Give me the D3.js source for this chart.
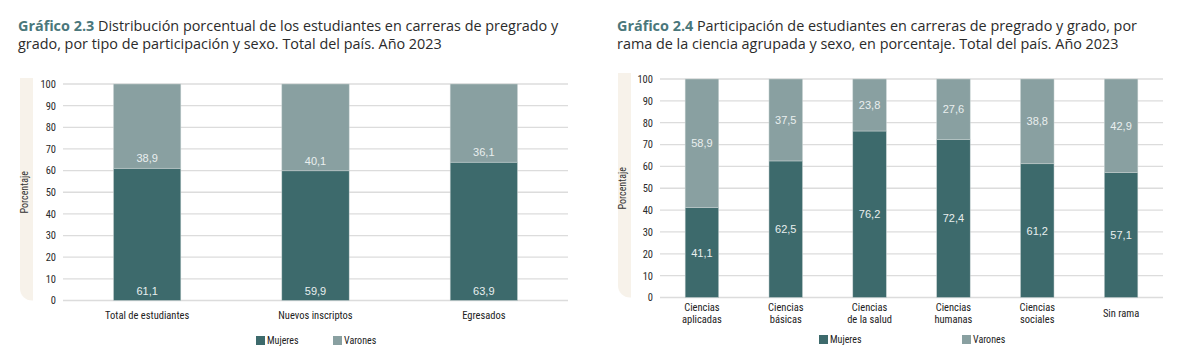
<!DOCTYPE html>
<html>
<head>
<meta charset="utf-8">
<script src="https://cdn.jsdelivr.net/npm/d3@7"></script>
<style>
  body { margin: 0; background: #fff; }
  svg { display: block; }
  .title { font-family: "Open Sans", "Noto Sans", sans-serif; font-size: 14.4px; fill: #2b2b2b; }
  .title .num { font-weight: 700; fill: #4a777b; }
  .tick text, .cat, .leg, .ylab { font-family: "Liberation Sans Narrow", "Roboto Condensed", "Liberation Sans", Arial, sans-serif; }
  .val { font-family: "Liberation Sans Narrow", "Liberation Sans", Arial, sans-serif; font-size: 11px; fill: #e9efef; text-anchor: middle; }
</style>
</head>
<body>
<div id="chart"></div>
<script>
////////////////////////////////////////////////////////////
//////////////////////// Data //////////////////////////////
////////////////////////////////////////////////////////////

var series = ["Mujeres", "Varones"],
    colors = ["#3d6a6c", "#89a0a1"];

// Gráfico 2.3
var cats1 = ["Total de estudiantes", "Nuevos inscriptos", "Egresados"],
    mujeres1 = [61.1, 59.9, 63.9],
    varones1 = [38.9, 40.1, 36.1];

// Gráfico 2.4
var cats2 = [["Ciencias", "aplicadas"], ["Ciencias", "básicas"], ["Ciencias", "de la salud"],
             ["Ciencias", "humanas"], ["Ciencias", "sociales"], ["Sin rama"]],
    mujeres2 = [41.1, 62.5, 76.2, 72.4, 61.2, 57.1],
    varones2 = [58.9, 37.5, 23.8, 27.6, 38.8, 42.9];

var yTicks = [0, 10, 20, 30, 40, 50, 60, 70, 80, 90, 100];

////////////////////////////////////////////////////////////
////////////////////// Create SVG //////////////////////////
////////////////////////////////////////////////////////////

var svg = d3.select("#chart").append("svg")
  .attr("width", 1200)
  .attr("height", 354);

function fmt(v) { return d3.format(".1f")(v).replace(".", ","); }

function drawChart(o) {
  var g = svg.append("g");

  // title (two lines)
  var t = g.append("text").attr("class", "title");
  var l1 = t.append("tspan").attr("x", o.tx).attr("y", 31);
  l1.append("tspan").attr("class", "num").text(o.num + " ");
  l1.append("tspan").text(o.title[0]);
  t.append("tspan").attr("x", o.tx).attr("y", 49).text(o.title[1]);

  var x = d3.scaleBand()
    .domain(d3.range(o.cats.length))
    .range([o.x0, o.x1])
    .paddingInner(o.pad)
    .paddingOuter(o.pad / 2);

  var y = d3.scaleLinear()
    .domain([0, 100])
    .range([o.y0, o.y1]);

  // beige panel behind y label
  g.append("path")
    .attr("fill", "#f7f2ea")
    .attr("d", function() {
      var px = o.px, pw = 13, top = y(100) - 6, bot = y(0), r = 12;
      return "M" + px + "," + top + "H" + (px + pw) + "V" + bot + "H" + (px + r) +
        "A" + r + "," + r + " 0 0 1 " + px + "," + (bot - r) + "Z";
    });

  g.append("text")
    .attr("class", "ylab")
    .attr("transform", "translate(" + (o.px + 8) + "," + y(50) + ") rotate(-90)")
    .attr("text-anchor", "middle")
    .style("font-size", "10px")
    .attr("fill", "#333")
    .text("Porcentaje");

  // axis + gridlines
  var yAxis = d3.axisLeft(y).tickValues(yTicks).tickSize(0).tickPadding(7);
  var ax = g.append("g").attr("transform", "translate(" + o.x0 + ",0)").call(yAxis);
  ax.select(".domain").remove();
  ax.selectAll("text").style("font-size", "10.5px").attr("fill", "#2a2a2a");

  g.append("g").selectAll("line")
    .data(yTicks).enter().append("line")
    .attr("x1", o.x0).attr("x2", o.x1)
    .attr("y1", function(d) { return y(d); })
    .attr("y2", function(d) { return y(d); })
    .attr("stroke", "#dcdcdc")
    .attr("stroke-width", 1.3);

  // stacked bars
  var rows = o.cats.map(function(c, i) { return { i: i, Mujeres: o.muj[i], Varones: o.var[i] }; });
  var stack = d3.stack().keys(series)(rows);

  var layers = g.selectAll("g.layer")
    .data(stack).enter().append("g")
    .attr("class", "layer")
    .attr("fill", function(d, k) { return colors[k]; });

  layers.selectAll("rect")
    .data(function(d) { return d; })
    .enter().append("rect")
    .attr("x", function(d) { return x(d.data.i); })
    .attr("width", x.bandwidth())
    .attr("y", function(d) { return y(d[1]); })
    .attr("height", function(d) { return y(d[0]) - y(d[1]); })
    .attr("stroke", "#c9d3d3")
    .attr("stroke-width", 0.5);

  layers.selectAll("text")
    .data(function(d) { return d.map(function(p) { p.key = d.key; return p; }); })
    .enter().append("text")
    .attr("class", "val")
    .attr("x", function(d) { return x(d.data.i) + x.bandwidth() / 2; })
    .attr("y", function(d) {
      if (o.labelBottom) return y(d[0]) - 6;
      return y((d[0] + d[1]) / 2) + 4;
    })
    .text(function(d) { return fmt(d[1] - d[0]); });

  // category labels
  var cl = g.selectAll("text.cat")
    .data(o.cats).enter().append("text")
    .attr("class", "cat")
    .attr("text-anchor", "middle")
    .style("font-size", "10.5px")
    .attr("fill", "#222")
    .attr("transform", function(d, i) { return "translate(" + (x(i) + x.bandwidth() / 2) + "," + o.catY + ")"; });
  cl.each(function(d) {
    var lines = Array.isArray(d) ? d : [d];
    var el = d3.select(this);
    lines.forEach(function(s, j) {
      el.append("tspan").attr("x", 0)
        .attr("y", (j - (lines.length - 1) / 2) * 12)
        .text(s);
    });
  });

  // legend
  var leg = g.selectAll("g.leg")
    .data(series).enter().append("g")
    .attr("class", "leg")
    .attr("transform", function(d, k) { return "translate(" + o.legX[k] + "," + o.legY + ")"; });
  leg.append("rect")
    .attr("width", 9).attr("height", 9).attr("y", -8)
    .attr("fill", function(d, k) { return colors[k]; });
  leg.append("text")
    .attr("x", 11)
    .style("font-size", "10px")
    .attr("fill", "#222")
    .text(function(d) { return d; });
}

drawChart({
  num: "Gráfico 2.3",
  title: ["Distribución porcentual de los estudiantes en carreras de pregrado y",
          "grado, por tipo de participación y sexo. Total del país. Año 2023"],
  tx: 18, cats: cats1, muj: mujeres1, var: varones1,
  x0: 63, x1: 568, pad: 0.6, y0: 300.5, y1: 84,
  px: 20, labelBottom: true, catY: 319,
  legX: [256, 333], legY: 344
});

drawChart({
  num: "Gráfico 2.4",
  title: ["Participación de estudiantes en carreras de pregrado y grado, por",
          "rama de la ciencia agrupada y sexo, en porcentaje. Total del país. Año 2023"],
  tx: 617, cats: cats2, muj: mujeres2, var: varones2,
  x0: 660, x1: 1163, pad: 0.6, y0: 297.5, y1: 79,
  px: 618, labelBottom: false, catY: 317,
  legX: [819, 962], legY: 343
});
</script>
</body>
</html>
